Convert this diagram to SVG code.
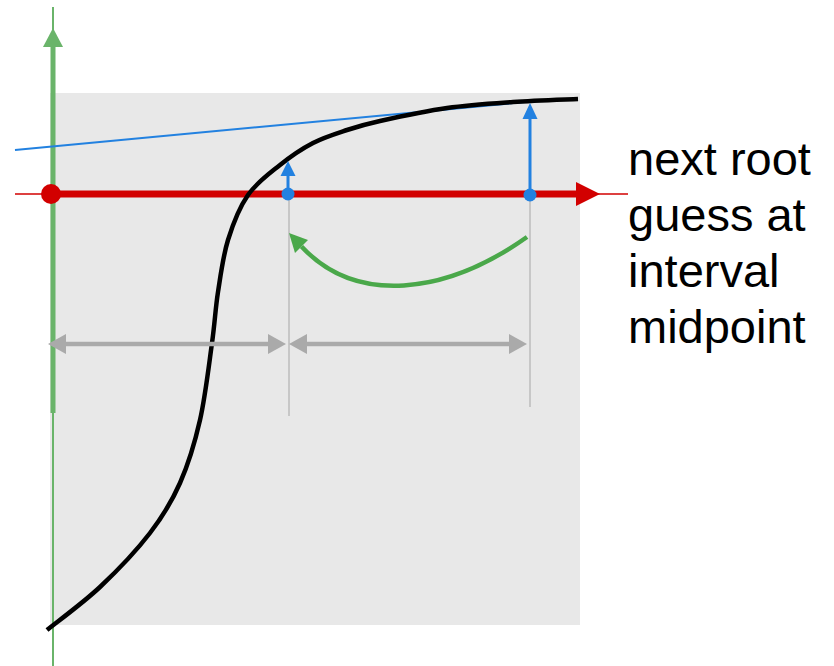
<svg xmlns="http://www.w3.org/2000/svg" width="834" height="666" viewBox="0 0 834 666">
<style>
.axg{stroke:#6ab46a;fill:none}
.axr{stroke:#d20000;fill:none}
.blue{stroke:#2281e0;fill:none}
.bluef{fill:#2281e0}
.gline{stroke:#bdbdbd;stroke-width:1.5;fill:none}
.garr{stroke:#aaaaaa;stroke-width:4.5;fill:none}
.garrh{fill:#aaaaaa}
.lbl{font-family:"Liberation Sans",Arial,Helvetica,sans-serif;font-size:47px;fill:#000}
</style>
<rect id="plot-area" x="50" y="93" width="530" height="532" fill="#e8e8e8"/>
<g id="connectors">
  <!-- vertical guide lines -->
  <line class="gline" x1="289" y1="194" x2="289" y2="416"/>
  <line class="gline" x1="530" y1="194" x2="530" y2="407"/>
  <!-- y axis -->
  <line class="axg" x1="53" y1="7" x2="53" y2="666" stroke-width="2"/>
  <line class="axg" x1="53" y1="45" x2="53" y2="413" stroke-width="5"/>
  <polygon fill="#6ab46a" points="53,28 63,47 43,47"/>
  <!-- x axis -->
  <line class="axr" x1="15" y1="194" x2="628" y2="194" stroke-width="1.5"/>
  <line class="axr" x1="52" y1="194" x2="578" y2="194" stroke-width="7"/>
  <polygon fill="#d20000" points="600,194 576,182 576,206"/>
  <!-- tangent line -->
  <line class="blue" x1="15" y1="150" x2="530" y2="101.5" stroke-width="2"/>
  <!-- curve -->
  <path fill="none" stroke="#000" stroke-width="4.5" d="M47,630 C55.8,622.8 82.8,603.2 100,587 C117.2,570.8 136.7,550.3 150,533 C163.3,515.7 171.7,501.8 180,483 C188.3,464.2 194.7,443.3 200,420 C205.3,396.7 209,364.3 212,343 C215,321.7 215.3,309.2 218,292 C220.7,274.8 223,256.2 228,240 C233,223.8 239.3,207.5 248,195 C256.7,182.5 269.2,173.7 280,165 C290.8,156.3 301.8,148.8 313,143 C324.2,137.2 335.8,133.7 347,130 C358.2,126.3 363.3,124.7 380,121 C396.7,117.3 424.8,111.2 447,108 C469.2,104.8 491.2,103.5 513,102 C534.8,100.5 567.2,99.5 578,99"/>
  <!-- blue arrows -->
  <line class="blue" x1="288" y1="194" x2="288" y2="174" stroke-width="3"/>
  <polygon class="bluef" points="288,161 295.5,176 280.5,176"/>
  <line class="blue" x1="530" y1="195" x2="530" y2="117" stroke-width="3"/>
  <polygon class="bluef" points="530,103 537.5,119 522.5,119"/>
  <!-- green curved arrow -->
  <path fill="none" stroke="#4aa84a" stroke-width="4.5" d="M527,237 C445,295 356,305 301.5,246.5"/>
  <polygon fill="#4aa84a" points="289,233 308,240 295,253"/>
  <!-- gray double arrows -->
  <line class="garr" x1="62" y1="344" x2="272" y2="344"/>
  <polygon class="garrh" points="48,344 66,334 66,354"/>
  <polygon class="garrh" points="286,344 268,334 268,354"/>
  <line class="garr" x1="303" y1="344" x2="513" y2="344"/>
  <polygon class="garrh" points="289,344 307,334 307,354"/>
  <polygon class="garrh" points="527,344 509,334 509,354"/>
</g>
<g id="dots">
  <circle cx="51" cy="194" r="10" fill="#d20000"/>
  <circle cx="288" cy="194" r="6.5" class="bluef"/>
  <circle cx="530" cy="195" r="6.5" class="bluef"/>
</g>
<g id="label">
  <text class="lbl" x="628" y="175">next root</text>
  <text class="lbl" x="628" y="231">guess at</text>
  <text class="lbl" x="628" y="287">interval</text>
  <text class="lbl" x="628" y="343">midpoint</text>
</g>
</svg>
